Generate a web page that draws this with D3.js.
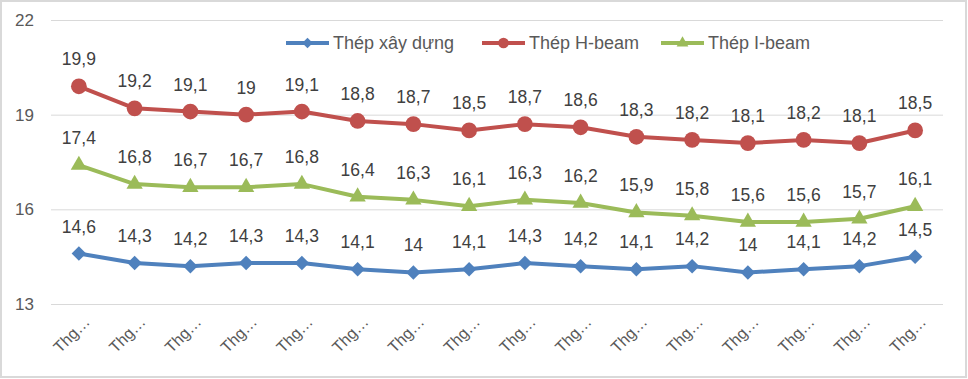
<!DOCTYPE html>
<html><head><meta charset="utf-8">
<script src="https://cdn.jsdelivr.net/npm/d3@7"></script>
<style>body{margin:0;background:#fff}svg{display:block}text{font-family:"Liberation Sans",Arial,sans-serif}</style>
</head><body><svg id="c" width="968" height="379"></svg>
<script>
const categories = ["Thg…","Thg…","Thg…","Thg…","Thg…","Thg…","Thg…","Thg…","Thg…","Thg…","Thg…","Thg…","Thg…","Thg…","Thg…","Thg…"];
const thepXayDung = [14.6,14.3,14.2,14.3,14.3,14.1,14,14.1,14.3,14.2,14.1,14.2,14,14.1,14.2,14.5];
const thepHBeam = [19.9,19.2,19.1,19,19.1,18.8,18.7,18.5,18.7,18.6,18.3,18.2,18.1,18.2,18.1,18.5];
const thepIBeam = [17.4,16.8,16.7,16.7,16.8,16.4,16.3,16.1,16.3,16.2,15.9,15.8,15.6,15.6,15.7,16.1];
const yTicks = [13,16,19,22];
const seriesNames = ["Thép xây dựng","Thép H-beam","Thép I-beam"];

const series = [
  {name: seriesNames[0], values: thepXayDung, color:"#4F81BD", marker:"diamond"},
  {name: seriesNames[1], values: thepHBeam, color:"#C0504D", marker:"circle"},
  {name: seriesNames[2], values: thepIBeam, color:"#9BBB59", marker:"triangle"}
];
const svg = d3.select("#c");
svg.append("rect").attr("x",1).attr("y",1).attr("width",965).attr("height",376)
  .attr("fill","#fff").attr("stroke","#d9d9d9").attr("stroke-width",2);

const x = d3.scaleBand().domain(d3.range(categories.length)).range([51,943]);
const y = d3.scaleLinear().domain([13,22]).range([304,20]);

const yAxis = svg.append("g").attr("transform","translate(51,0)")
  .call(d3.axisLeft(y).tickValues(yTicks).tickSize(-892).tickPadding(17).tickFormat(d3.format("d")));
yAxis.select(".domain").remove();
yAxis.selectAll("line").attr("stroke","#d9d9d9").attr("stroke-width",1);
yAxis.selectAll("text").attr("fill","#595959").style("font-size","17px");

const xAxis = svg.append("g").attr("transform","translate(0,304)")
  .call(d3.axisBottom(x).tickSize(0).tickFormat(i=>categories[i]));
xAxis.select(".domain").remove();
xAxis.selectAll("text").attr("fill","#595959").style("font-size","16px")
  .attr("text-anchor","end").attr("dy",null).attr("y",0)
  .attr("transform", "translate(12,19) rotate(-45)");

const line = d3.line().x((d,i)=>x(i)+x.bandwidth()/2).y(d=>y(d));
const mk = (m, big) => {
  if (m==="diamond") return d3.symbol().type(d3.symbolSquare).size(big?105:55)();
  if (m==="circle") return d3.symbol().type(d3.symbolCircle).size(big?195:90)();
  return d3.symbol().type(d3.symbolTriangle).size(big?115:60)();
};
const fmt = v => String(v).replace(".",",");
series.forEach(s=>{
  const rot = s.marker==="diamond" ? " rotate(45)" : "";
  const g = svg.append("g");
  g.append("path").datum(s.values).attr("d",line).attr("fill","none")
   .attr("stroke",s.color).attr("stroke-width",4).attr("stroke-linejoin","round");
  g.selectAll("path.m").data(s.values).enter().append("path").attr("class","m")
   .attr("d",mk(s.marker,true)).attr("fill",s.color)
   .attr("transform",(d,i)=>`translate(${x(i)+x.bandwidth()/2},${y(d)})${rot}`);
  g.selectAll("text").data(s.values).enter().append("text")
   .attr("x",(d,i)=>x(i)+x.bandwidth()/2).attr("y",d=>y(d)-21)
   .attr("text-anchor","middle").attr("fill","#404040").style("font-size","17.5px")
   .text(fmt);
});

const legX = [286,482,661];
const leg = svg.append("g");
series.forEach((s,k)=>{
  const rot = s.marker==="diamond" ? " rotate(45)" : "";
  const lg = leg.append("g").attr("transform",`translate(${legX[k]},43)`);
  lg.append("line").attr("x1",0).attr("x2",43).attr("stroke",s.color).attr("stroke-width",4);
  lg.append("path").attr("d",mk(s.marker,false)).attr("fill",s.color).attr("transform",`translate(21.5,0)${rot}`);
  lg.append("text").attr("x",47).attr("y",6).attr("fill","#595959").style("font-size","18px").text(s.name);
});
</script></body></html>
